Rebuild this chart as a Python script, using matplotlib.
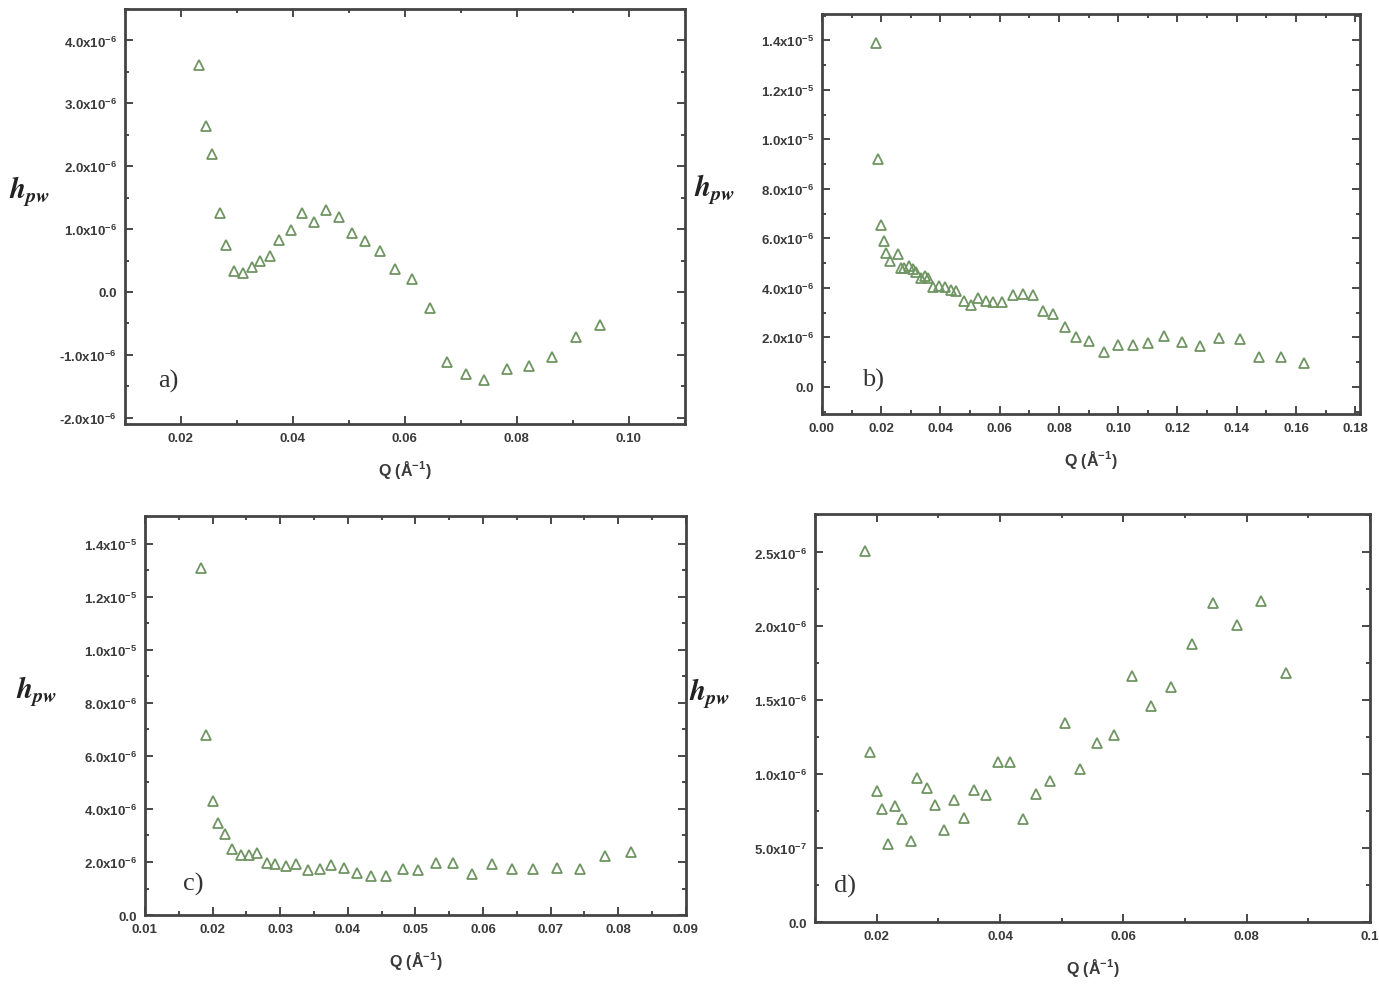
import matplotlib
matplotlib.use("Agg")
import matplotlib.pyplot as plt
from matplotlib.ticker import MultipleLocator, FuncFormatter

# panel a)
qa = [0.0233, 0.0244, 0.0256, 0.0269, 0.0281, 0.0294, 0.0310, 0.0327, 0.0341, 0.0359,
      0.0376, 0.0397, 0.0416, 0.0437, 0.0460, 0.0482, 0.0506, 0.0529, 0.0555, 0.0582,
      0.0613, 0.0644, 0.0676, 0.0710, 0.0742, 0.0782, 0.0821, 0.0863, 0.0905, 0.0949]
ha = [3.61, 2.64, 2.19, 1.26, 0.75, 0.33, 0.30, 0.40, 0.49, 0.57,
      0.83, 0.98, 1.25, 1.12, 1.31, 1.19, 0.93, 0.81, 0.65, 0.36,
      0.20, -0.25, -1.11, -1.31, -1.40, -1.22, -1.18, -1.04, -0.72, -0.53]  # x1e-6

# panel b)
qb = [0.0184, 0.0191, 0.0200, 0.0209, 0.0218, 0.0231, 0.0256, 0.0266, 0.0278, 0.0293,
      0.0306, 0.0319, 0.0334, 0.0349, 0.0359, 0.0374, 0.0396, 0.0415, 0.0435, 0.0454,
      0.0479, 0.0502, 0.0528, 0.0554, 0.0579, 0.0609, 0.0646, 0.0678, 0.0712, 0.0746,
      0.0781, 0.0819, 0.0859, 0.0903, 0.0952, 0.1001, 0.1050, 0.1099, 0.1153, 0.1216,
      0.1275, 0.1341, 0.1410, 0.1476, 0.1550, 0.1628]
hb = [13.90, 9.19, 6.53, 5.89, 5.40, 5.09, 5.36, 4.82, 4.78, 4.89,
      4.75, 4.62, 4.41, 4.48, 4.41, 4.05, 4.08, 4.05, 3.92, 3.88,
      3.47, 3.30, 3.58, 3.47, 3.41, 3.43, 3.70, 3.74, 3.70, 3.07,
      2.93, 2.40, 2.03, 1.86, 1.41, 1.70, 1.70, 1.79, 2.06, 1.83,
      1.66, 1.99, 1.92, 1.21, 1.21, 0.98]  # x1e-6

# panel c)
qc = [0.0183, 0.0190, 0.0200, 0.0208, 0.0219, 0.0229, 0.0242, 0.0254, 0.0266, 0.0280,
      0.0293, 0.0309, 0.0324, 0.0341, 0.0359, 0.0375, 0.0394, 0.0414, 0.0435, 0.0457,
      0.0481, 0.0504, 0.0530, 0.0555, 0.0583, 0.0613, 0.0643, 0.0674, 0.0709, 0.0744,
      0.0781, 0.0819]
hc = [13.09, 6.80, 4.28, 3.48, 3.07, 2.50, 2.26, 2.26, 2.32, 1.97,
      1.93, 1.85, 1.91, 1.68, 1.72, 1.87, 1.78, 1.60, 1.49, 1.49,
      1.75, 1.70, 1.95, 1.95, 1.53, 1.91, 1.75, 1.75, 1.77, 1.72,
      2.22, 2.37]  # x1e-6

# panel d)
qd = [0.0181, 0.0189, 0.0200, 0.0209, 0.0219, 0.0230, 0.0241, 0.0256, 0.0266, 0.0281,
      0.0294, 0.0309, 0.0325, 0.0341, 0.0358, 0.0377, 0.0396, 0.0416, 0.0437, 0.0459,
      0.0481, 0.0505, 0.0529, 0.0558, 0.0585, 0.0614, 0.0645, 0.0678, 0.0711, 0.0746,
      0.0784, 0.0824, 0.0864]
hd = [2.51, 1.147, 0.887, 0.767, 0.530, 0.783, 0.700, 0.549, 0.971, 0.910,
      0.792, 0.625, 0.824, 0.707, 0.896, 0.858, 1.083, 1.083, 0.695, 0.865,
      0.953, 1.343, 1.034, 1.208, 1.264, 1.664, 1.461, 1.587, 1.878, 2.160,
      2.009, 2.172, 1.682]  # x1e-6

plt.rcParams["font.family"] = ["Liberation Sans", "DejaVu Sans"]
plt.rcParams["mathtext.fontset"] = "custom"
plt.rcParams["mathtext.rm"] = "Liberation Sans:bold"
plt.rcParams["mathtext.it"] = "Liberation Sans:italic"
plt.rcParams["mathtext.bf"] = "Liberation Sans:bold"
plt.rcParams["font.weight"] = "bold"

TXT = "#3a3a3a"
MARK = "#6f9563"


def sci(v, pos):
    if abs(v) < 1e-12:
        return "0.0"
    exp = int(f"{v:e}".split("e")[1])
    mant = v / 10 ** exp
    return "%.1fx10$^{%d}$" % (mant, exp)


panels = [
    # (q, h, rect, xlim, ylim, xmaj, xmin, ymaj, ymin, tag, tagpos, ylab x)
    (qa, ha, [0.0906, 0.5694, 0.406, 0.4205], (0.01, 0.11), (-2.1e-6, 4.5e-6),
     0.02, 0.01, 1e-6, 0.5e-6, "a)", (0.06, 0.09), -0.17),
    (qb, hb, [0.596, 0.5795, 0.390, 0.405], (0.0, 0.1815), (-1.1e-6, 1.505e-5),
     0.02, 0.01, 2e-6, 1e-6, "b)", (0.075, 0.07), -0.2),
    (qc, hc, [0.1051, 0.0719, 0.3923, 0.4043], (0.01, 0.09), (0.0, 1.504e-5),
     0.01, 0.005, 2e-6, 1e-6, "c)", (0.07, 0.065), -0.2),
    (qd, hd, [0.591, 0.0648, 0.4025, 0.4134], (0.01, 0.1), (0.0, 2.76e-6),
     0.02, 0.01, 5e-7, 2.5e-7, "d)", (0.035, 0.075), -0.19),
]

fig = plt.figure(figsize=(13.79, 9.87), dpi=100)
for i, (q, h, rect, xl, yl, xmaj, xmin, ymaj, ymin, tag, tpos, ylx) in enumerate(panels):
    ax = fig.add_axes(rect)
    ax.plot(q, [v * 1e-6 for v in h], linestyle="none", marker="^", markersize=7.5,
            markerfacecolor="none", markeredgecolor=MARK, markeredgewidth=1.3)
    ax.set_xlim(*xl)
    ax.set_ylim(*yl)
    ax.xaxis.set_major_locator(MultipleLocator(xmaj))
    ax.xaxis.set_minor_locator(MultipleLocator(xmin))
    ax.yaxis.set_major_locator(MultipleLocator(ymaj))
    ax.yaxis.set_minor_locator(MultipleLocator(ymin))
    if i == 3:
        ax.xaxis.set_major_formatter(FuncFormatter(
            lambda v, p: "0.1" if abs(v - 0.1) < 1e-9 else f"{v:.2f}"))
    else:
        ax.xaxis.set_major_formatter(FuncFormatter(lambda v, p: f"{v:.2f}"))
    ax.yaxis.set_major_formatter(FuncFormatter(sci))
    ax.tick_params(which="both", direction="in", top=True, right=True, colors=TXT,
                   labelsize=9.5, width=1.3)
    ax.tick_params(which="major", length=6, pad=6)
    ax.tick_params(which="minor", length=3)
    for sp in ax.spines.values():
        sp.set_linewidth(2.0)
        sp.set_color("#444444")
    ax.set_xlabel("Q (Å$^{-1}$)", fontsize=11.5, fontweight="bold", color=TXT, labelpad=10)
    ax.set_ylabel(r"$\mathit{h}_{pw}$", fontsize=21, rotation=0, color="#222222",
                  math_fontfamily="stix")
    ax.yaxis.set_label_coords(ylx, 0.52)
    ax.text(tpos[0], tpos[1], tag, transform=ax.transAxes, fontsize=19,
            family="Liberation Serif", fontweight="normal", color="#333333")

fig.savefig("out.png", dpi=100)
